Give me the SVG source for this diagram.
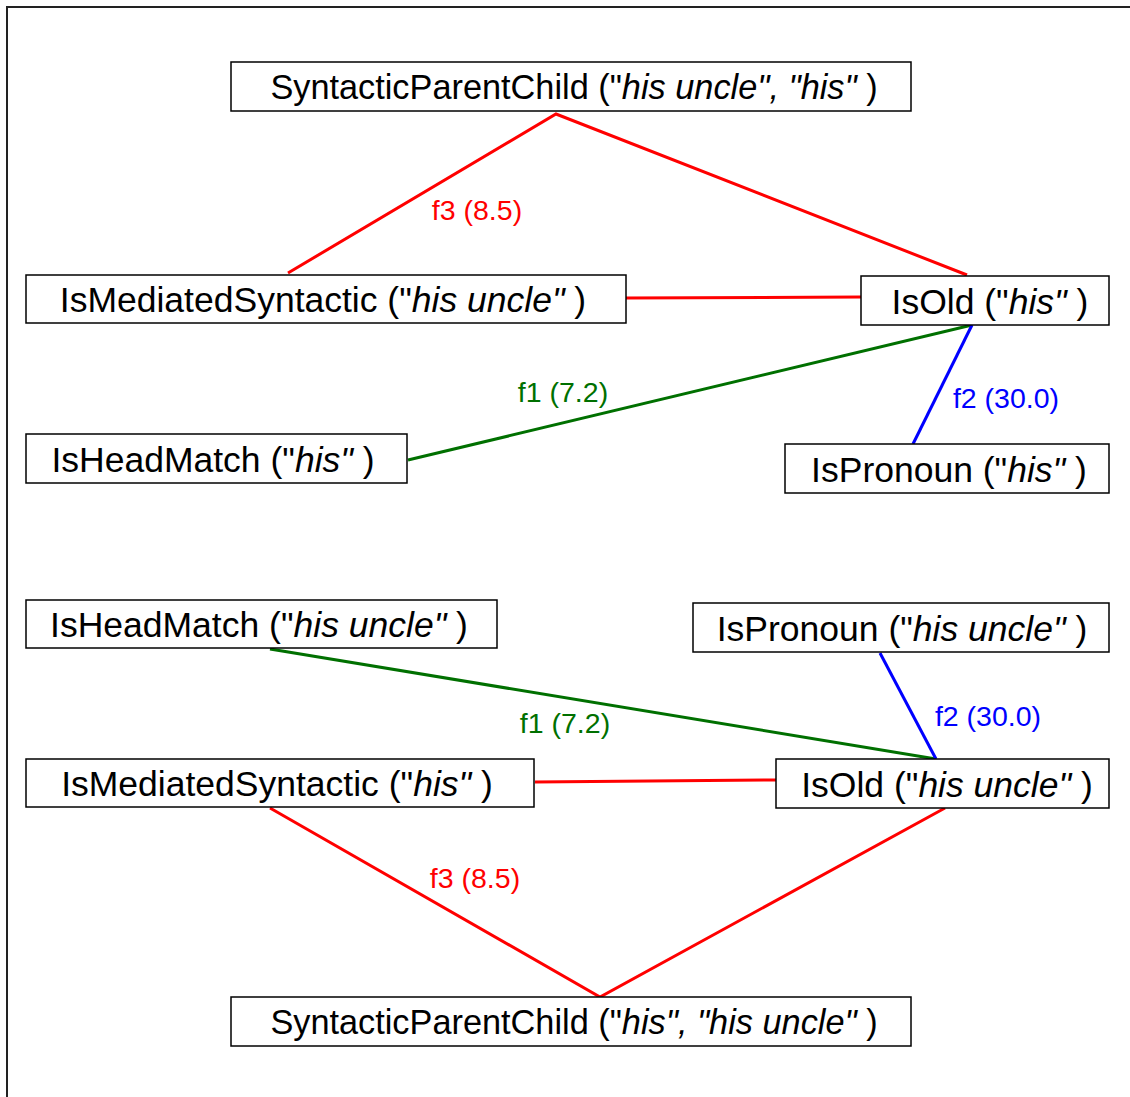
<svg xmlns="http://www.w3.org/2000/svg" width="1130" height="1097" viewBox="0 0 1130 1097">
  <style>
    .box { fill: #ffffff; stroke: #000000; stroke-width: 1.5; }
    .node { font-family: "Liberation Sans", Arial, sans-serif; font-size: 35.5px; fill: #000000; text-anchor: middle; }
    .wide { font-size: 34.3px; }
    .it { font-style: italic; }
    .lbl { font-family: "Liberation Sans", Arial, sans-serif; font-size: 28.5px; text-anchor: middle; }
    .red { stroke: #ff0000; }
    .green { stroke: #007000; }
    .blue { stroke: #0000ff; }
    .edges line, .edges polyline { stroke-width: 3; fill: none; }
  </style>

  <!-- frame -->
  <polyline points="7,1097 7,7 1130,7" fill="none" stroke="#222222" stroke-width="2"/>

  <!-- connectors -->
  <g id="edges" class="edges">
    <polyline class="red" points="288,273 556,114 967,275"/>
    <line class="red" x1="626" y1="298" x2="861" y2="297"/>
    <line class="green" x1="408" y1="460" x2="972" y2="325"/>
    <line class="blue" x1="972" y1="325" x2="913" y2="444"/>
    <line class="green" x1="270" y1="649" x2="936" y2="759"/>
    <line class="blue" x1="880" y1="653" x2="936" y2="759"/>
    <line class="red" x1="535" y1="782" x2="776" y2="780"/>
    <polyline class="red" points="270,808 600,997 945,808"/>
    <text class="lbl" x="477" y="220" fill="#ff0000">f3 (8.5)</text>
    <text class="lbl" x="563" y="402" fill="#007000">f1 (7.2)</text>
    <text class="lbl" x="1006" y="408" fill="#0000ff">f2 (30.0)</text>
    <text class="lbl" x="565" y="733" fill="#007000">f1 (7.2)</text>
    <text class="lbl" x="988" y="726" fill="#0000ff">f2 (30.0)</text>
    <text class="lbl" x="475" y="888" fill="#ff0000">f3 (8.5)</text>
  </g>

  <!-- upper cluster -->
  <g id="spc-uncle-his">
    <rect class="box" x="231" y="62" width="680" height="49"/>
    <text class="node wide" x="574" y="99">SyntacticParentChild ("<tspan class="it">his uncle", "his"</tspan> )</text>
  </g>
  <g id="ims-uncle">
    <rect class="box" x="26" y="275" width="600" height="48"/>
    <text class="node" x="323" y="312">IsMediatedSyntactic ("<tspan class="it">his uncle"</tspan> )</text>
  </g>
  <g id="isold-his">
    <rect class="box" x="861" y="276" width="248" height="49"/>
    <text class="node" x="990" y="314">IsOld ("<tspan class="it">his"</tspan> )</text>
  </g>
  <g id="ihm-his">
    <rect class="box" x="26" y="434" width="381" height="49"/>
    <text class="node" x="213" y="472">IsHeadMatch ("<tspan class="it">his"</tspan> )</text>
  </g>
  <g id="ipr-his">
    <rect class="box" x="785" y="444" width="324" height="49"/>
    <text class="node" x="949" y="482">IsPronoun ("<tspan class="it">his"</tspan> )</text>
  </g>

  <!-- lower cluster -->
  <g id="ihm-uncle">
    <rect class="box" x="26" y="600" width="471" height="48"/>
    <text class="node" x="259" y="637">IsHeadMatch ("<tspan class="it">his uncle"</tspan> )</text>
  </g>
  <g id="ipr-uncle">
    <rect class="box" x="693" y="603" width="416" height="49"/>
    <text class="node" x="902" y="641">IsPronoun ("<tspan class="it">his uncle"</tspan> )</text>
  </g>
  <g id="ims-his">
    <rect class="box" x="26" y="759" width="508" height="48"/>
    <text class="node" x="277" y="796">IsMediatedSyntactic ("<tspan class="it">his"</tspan> )</text>
  </g>
  <g id="isold-uncle">
    <rect class="box" x="776" y="759" width="333" height="49"/>
    <text class="node" x="947" y="797">IsOld ("<tspan class="it">his uncle"</tspan> )</text>
  </g>
  <g id="spc-his-uncle">
    <rect class="box" x="231" y="997" width="680" height="49"/>
    <text class="node wide" x="574" y="1034">SyntacticParentChild ("<tspan class="it">his", "his uncle"</tspan> )</text>
  </g>
</svg>
